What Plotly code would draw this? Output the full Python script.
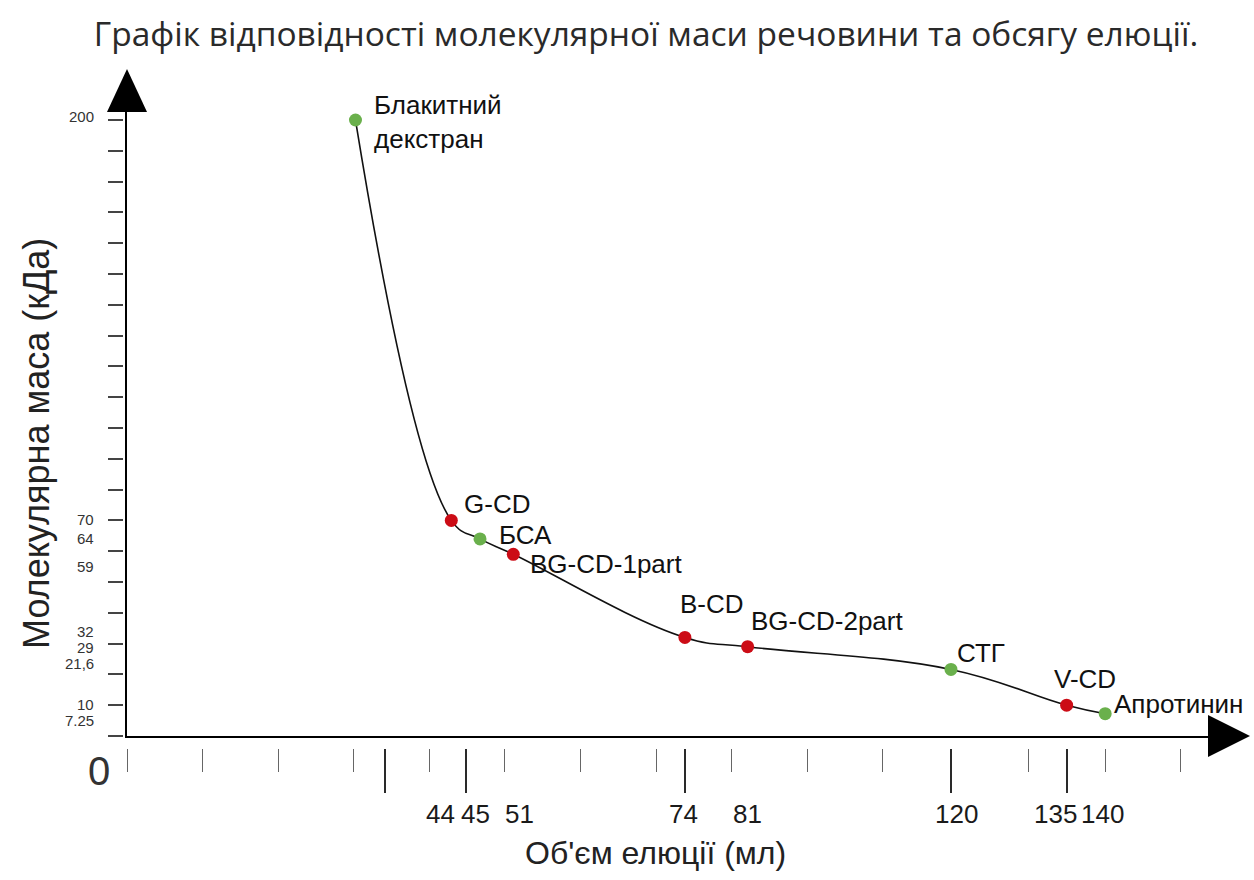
import numpy as np
import plotly.graph_objects as go

# ---------------- data ----------------
substances = ["Блакитний декстран", "G-CD", "БСА", "BG-CD-1part", "B-CD",
              "BG-CD-2part", "СТГ", "V-CD", "Апротинин"]
elution_volume_ml = [31, 44, 45, 51, 74, 81, 120, 135, 140]
molecular_mass_kda = [200, 70, 64, 59, 32, 29, 21.6, 10, 7.25]
substance_group = ["marker", "sample", "marker", "sample", "sample",
                   "sample", "marker", "sample", "marker"]

x_tick_values = [44, 45, 51, 74, 81, 120, 135, 140]
x_tick_labels = ["44", "45", "51", "74", "81", "120", "135", "140"]
x_long_tick_values = [35, 44.5, 74, 120, 135]
y_tick_values = [200, 70, 64, 59, 32, 29, 21.6, 10, 7.25]
y_tick_labels = ["200", "70", "64", "59", "32", "29", "21,6", "10", "7.25"]

# ---------------- schematic (not to scale) elution-volume axis ----------------
# the original sketch places the labelled volumes at these grid-step positions
SCALE_ML = [0, 44, 45, 51, 74, 81, 120, 135, 140, 150]
SCALE_GRID = [0, 4.29, 4.67, 5.11, 7.38, 8.21, 10.9, 12.43, 12.94, 13.94]


def x_scale(v):
    return np.interp(np.asarray(v, dtype=float), SCALE_ML, SCALE_GRID)


X_MAX = 14.3
Y_MAX = 202.6
minor_grid_ticks = list(range(0, 11)) + [float(t) for t in x_scale([130, 140, 150])]

# ---------------- styling / layout geometry ----------------
W, H = 1254, 880
M = dict(l=90, r=40, t=60, b=60)
PW, PH = W - M["l"] - M["r"], H - M["t"] - M["b"]


def px(xp):
    return (xp - M["l"]) / PW


def py(yp):
    return (H - M["b"] - yp) / PH


X_DOM = [px(127), px(1208)]
Y_DOM = [py(736), py(112)]

GREEN = "#6ab04c"
RED = "#cc0c16"
colors = [GREEN if g == "marker" else RED for g in substance_group]

SANS = "Liberation Sans, Arial, sans-serif"
LABEL_FONT = dict(family=SANS, size=26, color="#111111")

# pixel offsets of each point label from its point (xshift, yshift)
label_offsets = [(17, -2), (11, 16), (17, 4), (15, -10), (-7, 33),
                 (1, 26), (4, 16), (-15, 26), (7, 10)]
x_label_shift = [-11, -5, 6, -1, 0, 6, -11, -3]
y_label_shift = [4, 1, 0, -12, 6, -1, 6, 1, -7]

xs = x_scale(elution_volume_ml)

fig = go.Figure()

fig.add_trace(go.Scatter(
    x=xs, y=molecular_mass_kda, mode="lines",
    line=dict(color="#111111", width=1.6, shape="spline", smoothing=1.2),
    hoverinfo="skip", showlegend=False, cliponaxis=False))

fig.add_trace(go.Scatter(
    x=xs, y=molecular_mass_kda, mode="markers",
    marker=dict(color=colors, size=13, line=dict(width=0)),
    text=substances, hovertemplate="%{text}<extra></extra>",
    showlegend=False, cliponaxis=False))

# carrier trace for the tick-only overlay axes
fig.add_trace(go.Scatter(x=[None], y=[None], xaxis="x2", yaxis="y2",
                         showlegend=False, hoverinfo="skip"))

annotations = []
for name, xv, yv, (dx, dy) in zip(substances, xs, molecular_mass_kda, label_offsets):
    annotations.append(dict(
        x=xv, y=yv, xref="x", yref="y", text=name.replace(" ", "<br>"),
        showarrow=False, xanchor="left", yanchor="middle", align="left",
        xshift=dx, yshift=dy, font=LABEL_FONT))

for v, t, dx in zip(x_tick_values, x_tick_labels, x_label_shift):
    annotations.append(dict(
        x=float(x_scale(v)), y=0, xref="x", yref="y", text=t, showarrow=False,
        xanchor="center", yanchor="middle", xshift=dx, yshift=-78,
        font=dict(family=SANS, size=26, color="#1a1a1a")))

for v, t, dy in zip(y_tick_values, y_tick_labels, y_label_shift):
    annotations.append(dict(
        x=0, y=v, xref="x", yref="y", text=t, showarrow=False,
        xanchor="right", yanchor="middle", xshift=-31, yshift=dy,
        font=dict(family=SANS, size=15, color="#333333")))

annotations.append(dict(
    x=0, y=0, xref="x", yref="y", text="0", showarrow=False,
    xanchor="center", yanchor="middle", xshift=-28, yshift=-35,
    font=dict(family=SANS, size=40, color="#333333")))

annotations.append(dict(
    x=px(36), y=py(444), xref="paper", yref="paper",
    text="Молекулярна маса (кДа)", textangle=-90, showarrow=False,
    xanchor="center", yanchor="middle",
    font=dict(family=SANS, size=36, color="#222222")))

annotations.append(dict(
    x=px(655), y=py(853), xref="paper", yref="paper",
    text="Об'єм елюції (мл)", showarrow=False,
    xanchor="center", yanchor="middle",
    font=dict(family=SANS, size=32, color="#222222")))

# arrow heads at the ends of both axes
shapes = [
    dict(type="path", xref="paper", yref="paper",
         path=f"M {X_DOM[0] - 20 / PW} {Y_DOM[1]} L {X_DOM[0] + 20 / PW} {Y_DOM[1]} "
              f"L {X_DOM[0]} {py(69)} Z",
         fillcolor="#000000", line=dict(width=0)),
    dict(type="path", xref="paper", yref="paper",
         path=f"M {X_DOM[1]} {Y_DOM[0] + 21 / PH} L {X_DOM[1]} {Y_DOM[0] - 21 / PH} "
              f"L {px(1250)} {Y_DOM[0]} Z",
         fillcolor="#000000", line=dict(width=0)),
]

fig.update_layout(
    width=W, height=H, margin=M,
    paper_bgcolor="white", plot_bgcolor="white",
    title=dict(text="Графік відповідності молекулярної маси речовини та обсягу елюції.",
               x=px(646), xref="paper", xanchor="center",
               y=1 - 34 / H, yref="container", yanchor="middle",
               font=dict(family="Open Sans, sans-serif", size=33.5, color="#2a2a2a")),
    xaxis=dict(domain=X_DOM, range=[0, X_MAX], anchor="y",
               showline=True, linecolor="#000000", linewidth=2,
               ticks="", showticklabels=False, showgrid=False, zeroline=False),
    yaxis=dict(domain=Y_DOM, range=[0, Y_MAX], anchor="x",
               showline=True, linecolor="#000000", linewidth=2,
               ticks="", showticklabels=False, showgrid=False, zeroline=False),
    xaxis2=dict(overlaying="x", anchor="free", position=py(748), range=[0, X_MAX],
                showline=False, showgrid=False, zeroline=False, showticklabels=False,
                tickmode="array", tickvals=[float(t) for t in x_scale(x_long_tick_values)],
                ticks="outside", ticklen=44, tickwidth=1.6, tickcolor="#2a2a2a",
                minor=dict(tickmode="array", tickvals=minor_grid_ticks, ticks="outside",
                           ticklen=23, tickwidth=1.3, tickcolor="#666666")),
    yaxis2=dict(overlaying="y", anchor="free", position=px(123), range=[0, Y_MAX],
                side="left",
                showline=False, showgrid=False, zeroline=False, showticklabels=False,
                tickmode="linear", tick0=0, dtick=10,
                ticks="outside", ticklen=15, tickwidth=2, tickcolor="#444444"),
    annotations=annotations,
    shapes=shapes,
    showlegend=False,
)

fig.write_html("out.html", config={"displayModeBar": False},
               post_script="document.body.style.margin='0';document.body.style.overflow='hidden';")
